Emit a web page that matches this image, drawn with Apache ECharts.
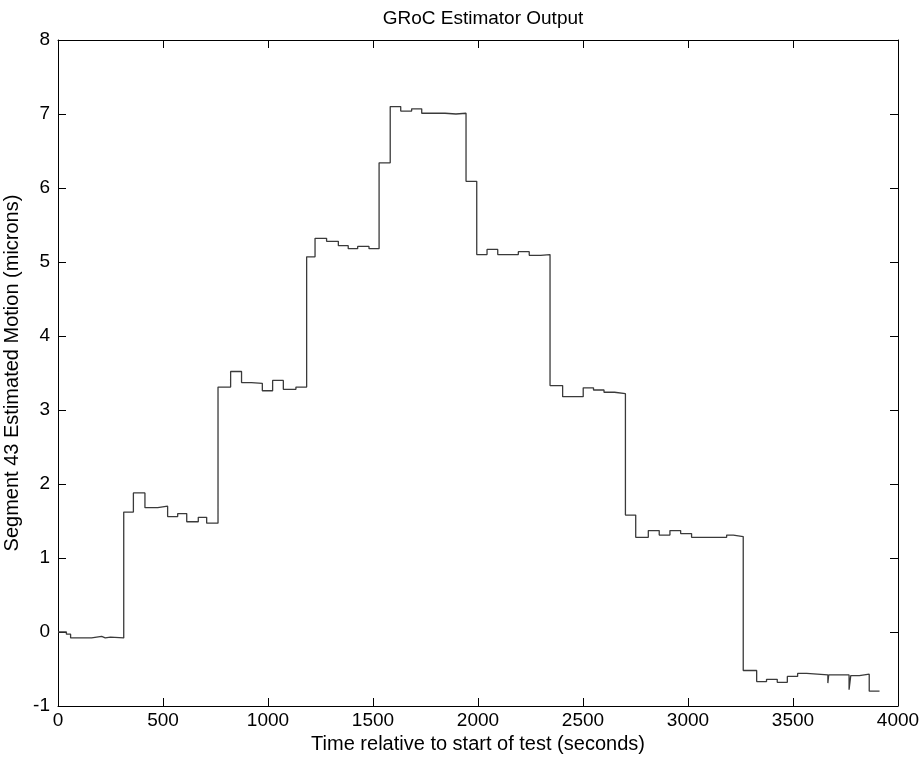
<!DOCTYPE html>
<html>
<head>
<meta charset="utf-8">
<title>GRoC Estimator Output</title>
<script src="https://cdn.jsdelivr.net/npm/echarts@6/dist/echarts.min.js"></script>
<style>
  html, body { margin: 0; padding: 0; background: #fff; }
  #chart { width: 922px; height: 757px; }
</style>
</head>
<body>
<div id="chart"></div>
<script>
// start time of each held step (seconds) and the estimate held from there
const stepTimes = [0, 40, 60, 160, 208, 225, 250, 313, 359, 414, 475, 522, 570, 613, 668, 708,
  762, 822, 874, 921, 973, 1022, 1073, 1133, 1184, 1224, 1279, 1335, 1382, 1427, 1481, 1529,
  1582, 1632, 1684, 1732, 1843, 1895, 1943, 1994, 2043, 2094, 2192, 2244, 2298, 2343, 2403,
  2501, 2550, 2600, 2650, 2702, 2751, 2811, 2863, 2914, 2965, 3017, 3184, 3216, 3263, 3327,
  3374, 3425, 3473, 3522, 3565, 3666, 3670, 3767, 3775, 3816, 3863]
const stepValues = [0.0, -0.03, -0.08, -0.06, -0.08, -0.07, -0.08, 1.62, 1.88, 1.68, 1.70, 1.56,
  1.60, 1.49, 1.55, 1.47, 3.31, 3.52, 3.37, 3.36, 3.26, 3.40, 3.28, 3.31, 5.07, 5.32, 5.28,
  5.22, 5.18, 5.21, 5.18, 6.34, 7.10, 7.04, 7.07, 7.01, 7.00, 7.01, 6.09, 5.10, 5.17, 5.10,
  5.14, 5.09, 5.10, 3.33, 3.18, 3.30, 3.27, 3.24, 3.22, 1.58, 1.28, 1.37, 1.31, 1.37, 1.33,
  1.28, 1.31, 1.29, -0.52, -0.67, -0.64, -0.68, -0.60, -0.56, -0.58, -0.69, -0.58, -0.78,
  -0.59, -0.57, -0.80]
const endTime = 3912

const xTicks = [0, 500, 1000, 1500, 2000, 2500, 3000, 3500, 4000]
const yTicks = [-1, 0, 1, 2, 3, 4, 5, 6, 7, 8]

const seriesData = stepTimes.map((t, i) => [t, stepValues[i]])
seriesData.push([endTime, stepValues[stepValues.length - 1]])

const font = 'Liberation Sans, Arial, Helvetica, sans-serif'

const baseAxis = {
    axisLine: { show: true, onZero: false, lineStyle: { color: '#000', width: 1 } },
    axisTick: { show: true, inside: true, length: 8, lineStyle: { color: '#000', width: 1 } },
    splitLine: { show: false },
}

const option = {
    animation: false,
    backgroundColor: '#fff',
    title: {
        text: 'GRoC Estimator Output',
        left: 478,
        top: 4,
        textAlign: 'center',
        textStyle: { fontFamily: font, fontSize: 19, fontWeight: 'normal', color: '#000' },
    },
    grid: { left: 58, right: 24, top: 40, bottom: 51, outerBoundsMode: 'none', containLabel: false },
    xAxis: [
        {
            ...baseAxis,
            type: 'value',
            min: xTicks[0],
            max: xTicks[xTicks.length - 1],
            interval: 500,
            position: 'bottom',
            name: 'Time relative to start of test (seconds)',
            nameLocation: 'middle',
            nameGap: 27,
            nameTextStyle: { fontFamily: font, fontSize: 20, color: '#000' },
            axisLabel: {
                fontFamily: font, fontSize: 19, color: '#000', margin: 5,
                formatter: v => String(v),
            },
        },
        {
            ...baseAxis,
            type: 'value',
            min: xTicks[0],
            max: xTicks[xTicks.length - 1],
            interval: 500,
            position: 'top',
            axisLabel: { show: false },
        },
    ],
    yAxis: [
        {
            ...baseAxis,
            type: 'value',
            min: yTicks[0],
            max: yTicks[yTicks.length - 1],
            interval: 1,
            position: 'left',
            name: 'Segment 43 Estimated Motion (microns)',
            nameLocation: 'middle',
            nameGap: 26,
            nameTextStyle: { fontFamily: font, fontSize: 20, color: '#000' },
            axisLabel: { fontFamily: font, fontSize: 19, color: '#000', margin: 8 },
        },
        {
            ...baseAxis,
            type: 'value',
            min: yTicks[0],
            max: yTicks[yTicks.length - 1],
            interval: 1,
            position: 'right',
            axisLabel: { show: false },
        },
    ],
    series: [
        {
            type: 'line',
            step: 'end',
            data: seriesData,
            showSymbol: false,
            lineStyle: { color: '#3a3a3a', width: 1.3 },
        },
    ],
}

const myChart = echarts.init(document.getElementById('chart'))
myChart.setOption(option)
</script>
</body>
</html>
